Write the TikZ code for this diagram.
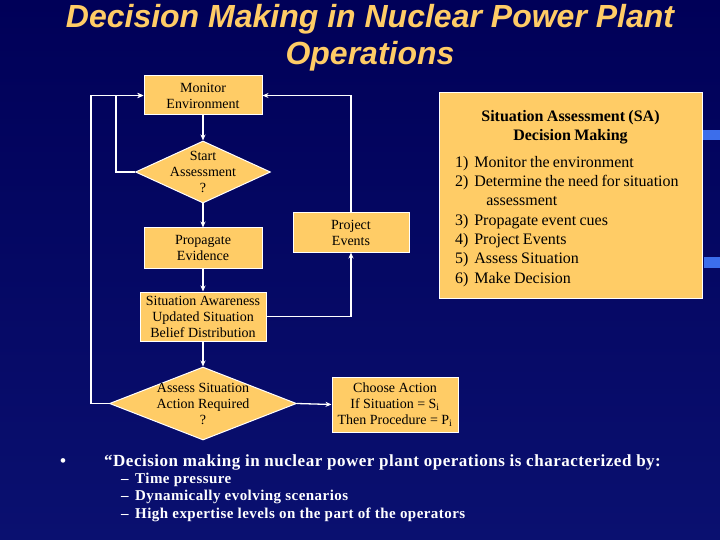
\documentclass[tikz,border=0pt]{standalone}
\usepackage{fontspec}
\setmainfont{Liberation Serif}
\newfontfamily\titlefont{Liberation Sans}
\usetikzlibrary{shapes.geometric,arrows.meta}
\definecolor{bgtop}{RGB}{0,0,88}
\definecolor{bgbot}{RGB}{10,16,112}
\definecolor{boxc}{RGB}{255,204,102}
\definecolor{titlec}{RGB}{255,204,102}
\definecolor{streak}{RGB}{60,110,235}
\begin{document}
\begin{tikzpicture}[x=1bp,y=-1bp,
  box/.style={draw=white, line width=1bp, fill=boxc, align=center, inner sep=0pt, text=black,
    font=\fontsize{14bp}{16bp}\selectfont},
  dia/.style={diamond, draw=white, line width=1bp, fill=boxc, inner sep=0pt},
  dtext/.style={font=\fontsize{14bp}{16bp}\selectfont, align=center, text=black},
  arr/.style={draw=white, line width=1.3bp, -{Stealth[length=6bp,width=5bp]}},
  btxt/.style={text=white, anchor=base west, inner sep=0pt}]
\shade[top color=bgtop, bottom color=bgbot] (0,0) rectangle (720,540);
\useasboundingbox (0,0) rectangle (720,540);
\fill[streak] (702,130) rectangle (720,140);
\fill[streak] (704,257) rectangle (720,268);

% title
\node[text=titlec, align=center, font=\titlefont\bfseries\itshape\fontsize{32bp}{37bp}\selectfont] (title) at (370,38)
  {Decision Making in Nuclear Power Plant\\Operations};

% flowchart
\node[box, minimum width=118bp, minimum height=39bp] (mon) at (203,95.5) {Monitor\\Environment};
\node[dia, minimum width=135bp, minimum height=62bp,
  label={[dtext]center:Start\\Assessment\\?}] (start) at (203,172) {};
\node[box, minimum width=118bp, minimum height=40bp] (prop) at (203,248) {Propagate\\Evidence};
\node[box, minimum width=116bp, minimum height=39bp] (proj) at (351,232.5) {Project\\Events};
\node[box, minimum width=126bp, minimum height=49bp] (saw) at (203,316.5)
  {Situation Awareness\\Updated Situation\\Belief Distribution};
\node[dia, minimum width=187bp, minimum height=73bp,
  label={[dtext]center:Assess Situation\\Action Required\\?}] (assess) at (203,403.5) {};
\node[box, minimum width=126bp, minimum height=55bp] (choose) at (395,404.5)
  {Choose Action\\If Situation = S\textsubscript{i}\\Then Procedure = P\textsubscript{i}};

\draw[arr] (mon.south) -- (start.north);
\draw[arr] (start.south) -- (prop.north);
\draw[arr] (prop.south) -- (saw.north);
\draw[arr] (saw.south) -- (assess.north);
\draw[arr] (saw.east) -| (proj.south);
\draw[arr] (proj.north) |- (mon.east);
\draw[arr] (start.west) -- ++(-19,0) |- (mon.west);
\draw[arr] (assess.west) -- ++(-18,0) |- (mon.west);
\draw[arr] (assess.east) -- (choose.west);

% SA box
\node[draw=white, line width=1bp, fill=boxc, minimum width=263bp, minimum height=205bp, inner sep=0pt]
  (sabox) at (570.5,195.5) {};
\node[text width=231bp, align=left, text=black, inner sep=0pt] (satext) at (570.5,199.5) {%
   \fontsize{16bp}{19bp}\selectfont
   {\centering\bfseries Situation Assessment (SA)\\Decision Making\par}
   \vspace{9bp}
   \fontsize{16bp}{19.3bp}\selectfont
   \begin{tabular}{@{}l@{\hspace{6bp}}l@{}}
   1) & Monitor the environment\\
   2) & Determine the need for situation\\
      & \hspace{12bp}assessment\\
   3) & Propagate event cues\\
   4) & Project Events\\
   5) & Assess Situation\\
   6) & Make Decision
   \end{tabular}};

% bottom text
\node[btxt, font=\bfseries\fontsize{17bp}{19bp}\selectfont\addfontfeatures{LetterSpace=3}] (bl) at (60,466)
  {\makebox[44bp][l]{\textbullet}“Decision making in nuclear power plant operations is characterized by:};
\node[btxt, font=\bfseries\fontsize{15bp}{17bp}\selectfont\addfontfeatures{LetterSpace=3}] (t1) at (121,483) {\makebox[14bp][l]{–}Time pressure};
\node[btxt, font=\bfseries\fontsize{15bp}{17bp}\selectfont\addfontfeatures{LetterSpace=3}] (t2) at (121,500.5) {\makebox[14bp][l]{–}Dynamically evolving scenarios};
\node[btxt, font=\bfseries\fontsize{15bp}{17bp}\selectfont\addfontfeatures{LetterSpace=3}] (t3) at (121,518) {\makebox[14bp][l]{–}High expertise levels on the part of the operators};
\end{tikzpicture}
\end{document}
